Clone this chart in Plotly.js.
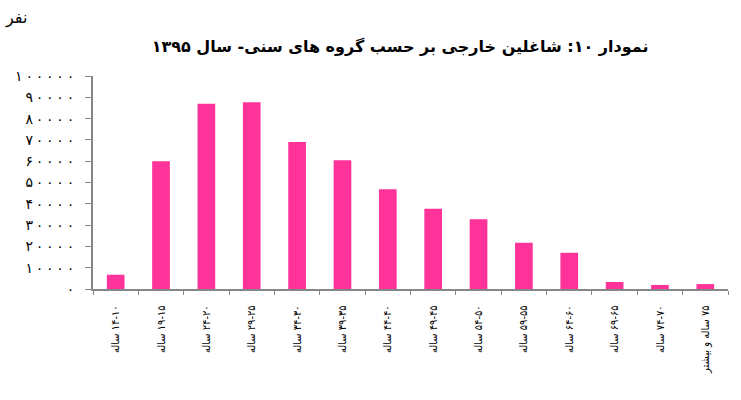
<!DOCTYPE html>
<html>
<head>
<meta charset="utf-8">
<script src="https://cdn.plot.ly/plotly-3.0.1.min.js"></script>
<style>
  html, body { margin: 0; padding: 0; background: #fff; }
  #chart { width: 741px; height: 400px; }
</style>
</head>
<body>
<div id="chart"></div>
<script>
// age groups (Persian labels, RLM keeps the right-to-left order inside SVG text)
var RLM = '\u200F';
var ageGroups = [
  '۱۴-۱۰ ساله', '۱۹-۱۵ ساله', '۲۴-۲۰ ساله', '۲۹-۲۵ ساله', '۳۴-۳۰ ساله',
  '۳۹-۳۵ ساله', '۴۴-۴۰ ساله', '۴۹-۴۵ ساله', '۵۴-۵۰ ساله', '۵۹-۵۵ ساله',
  '۶۴-۶۰ ساله', '۶۹-۶۵ ساله', '۷۴-۷۰ ساله', '۷۵ ساله و بیشتر'
];
// foreign workers per age group, 1395
var workers = [6700, 60000, 87000, 87700, 69000, 60500, 46800,
               37700, 32700, 21700, 17000, 3300, 1900, 2300];

var yTickVals = [0, 10000, 20000, 30000, 40000, 50000, 60000, 70000, 80000, 90000, 100000];
var yTickText = ['۰', '۱۰۰۰۰', '۲۰۰۰۰', '۳۰۰۰۰', '۴۰۰۰۰', '۵۰۰۰۰',
                 '۶۰۰۰۰', '۷۰۰۰۰', '۸۰۰۰۰', '۹۰۰۰۰', '۱۰۰۰۰۰'];

var titleText = 'نمودار ۱۰: شاغلین خارجی بر حسب گروه های سنی- سال ۱۳۹۵';
var unitText = 'نفر';

var labels = ageGroups.map(function (s) { return RLM + s + RLM; });
// the reference sets its digits wide apart; a thin space between digits does that
var yLabels = yTickText.map(function (s) { return s.split('').join('\u2009'); });

var trace = {
  x: labels,
  y: workers,
  type: 'bar',
  marker: { color: '#FF3399' },
  hoverinfo: 'y'
};

var grey = '#868686';
var font = 'DejaVu Sans, sans-serif';
var condensed = 'DejaVu Sans Condensed, DejaVu Sans, sans-serif';

var layout = {
  width: 741,
  height: 400,
  margin: { l: 93, r: 13, t: 76, b: 111 },
  paper_bgcolor: '#fff',
  plot_bgcolor: '#fff',
  bargap: 0.61,
  showlegend: false,
  font: { family: font, color: '#000', size: 12 },
  title: {
    text: '<b>' + RLM + titleText + RLM + '</b>',
    font: { family: font, size: 16, color: '#000' },
    x: 0.54, xanchor: 'center',
    y: 0.885, yanchor: 'middle'
  },
  xaxis: {
    type: 'category',
    showline: true, linecolor: grey, linewidth: 2,
    ticks: 'outside', tickson: 'boundaries', ticklen: 4, tickcolor: grey, tickwidth: 1,
    tickangle: -90,
    ticklabelstandoff: 10,
    tickfont: { family: condensed, size: 11, color: '#000' },
    showgrid: false, zeroline: false,
    fixedrange: true
  },
  yaxis: {
    range: [0, 100000],
    tickmode: 'array', tickvals: yTickVals, ticktext: yLabels,
    showline: true, linecolor: grey, linewidth: 2,
    ticks: 'outside', ticklen: 6, tickcolor: grey, tickwidth: 1,
    ticklabelstandoff: 8,
    tickfont: { family: font, size: 14, color: '#000' },
    showgrid: false, zeroline: false,
    fixedrange: true
  },
  annotations: [{
    text: RLM + unitText,
    xref: 'paper', yref: 'paper',
    x: -0.142, y: 1.272, xanchor: 'left', yanchor: 'middle',
    showarrow: false,
    font: { family: font, size: 16, color: '#000' }
  }]
};

Plotly.newPlot('chart', [trace], layout, { displayModeBar: false, staticPlot: true });
</script>
</body>
</html>
